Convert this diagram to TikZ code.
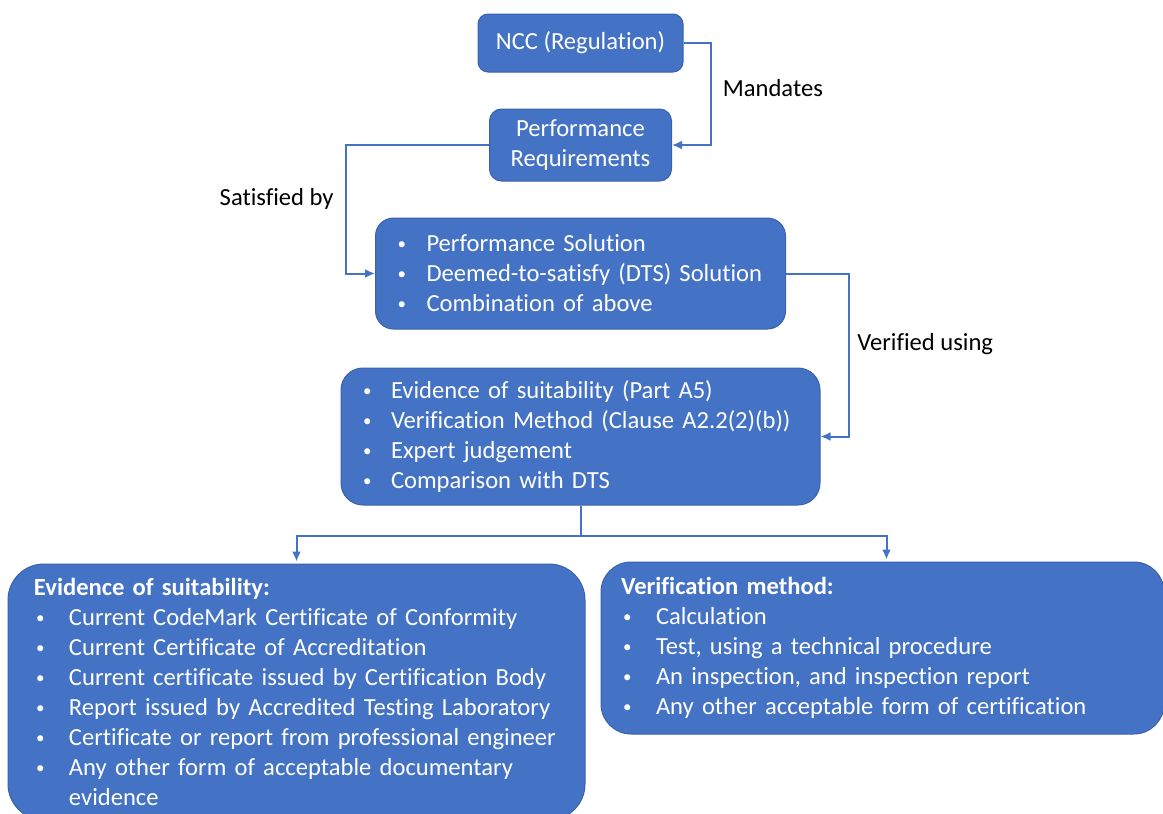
\documentclass[tikz,border=0pt]{standalone}
\usepackage{fontspec}
\setmainfont[Ligatures = NoCommon]{Carlito}
\definecolor{boxblue}{HTML}{4472C4}
\definecolor{boxedge}{HTML}{3A62AC}
\usetikzlibrary{arrows.meta, positioning}
\tikzset{
  bluebox/.style = {rectangle, fill = boxblue, draw = boxedge, line width = 1pt, text = white, font = \fontsize{24.6}{30}\selectfont, inner ysep = 4pt},
  listbox/.style = {bluebox, align = left, inner xsep = 20pt},
  conn/.style = {draw = boxblue, line width = 2pt, -{Latex[length=10pt, width=9pt]}},
  lbl/.style = {text = black, font = \fontsize{24.6}{30}\selectfont}
}
\newcommand{\bitem}[2][31pt]{\makebox[#1][l]{\hspace{2pt}\raisebox{2pt}{\fontsize{17}{17}\selectfont\textbullet}}#2}

\begin{document}
\begin{tikzpicture}[x = 1pt, y = -1pt]
\useasboundingbox (0,0) rectangle (1163,814);
\node[bluebox, rounded corners = 10pt, minimum width = 205pt, minimum height = 58pt, align = center] (ncc) at (580.5,43) {NCC (Regulation)};
\node[bluebox, rounded corners = 12pt, minimum width = 182pt, minimum height = 72pt, align = center, below = 36pt of ncc] (perf) {Performance\\Requirements};
\node[listbox, rounded corners = 18pt, text width = 370pt, minimum height = 111pt, below = 36pt of perf] (sol) {\bitem{Performance Solution}\\ \bitem{Deemed-to-satisfy (DTS) Solution}\\ \bitem{Combination of above}};
\node[listbox, rounded corners = 22pt, text width = 439pt, minimum height = 137pt, below = 38pt of sol] (suit) {\bitem[30pt]{Evidence of suitability (Part A5)}\\ \bitem[30pt]{Verification Method (Clause A2.2(2)(b))}\\ \bitem[30pt]{Expert judgement}\\ \bitem[30pt]{Comparison with DTS}};
\node[listbox, inner xsep = 26pt, rounded corners = 36pt, text width = 525pt, minimum height = 256pt, below left = 58pt and -5pt of suit.south] (evid) {\textbf{Evidence of suitability:}\\ \bitem[35pt]{Current CodeMark Certificate of Conformity}\\ \bitem[35pt]{Current Certificate of Accreditation}\\ \bitem[35pt]{Current certificate issued by Certification Body}\\ \bitem[35pt]{Report issued by Accredited Testing Laboratory}\\ \bitem[35pt]{Certificate or report from professional engineer}\\ \bitem[35pt]{Any other form of acceptable documentary}\\ \hspace*{35pt}evidence};
\node[listbox, rounded corners = 30pt, text width = 523pt, minimum height = 172pt, below right = 56pt and 20pt of suit.south] (verif) {\textbf{Verification method:}\\ \bitem[35pt]{Calculation}\\ \bitem[35pt]{Test, using a technical procedure}\\ \bitem[35pt]{An inspection, and inspection report}\\ \bitem[35pt]{Any other acceptable form of certification}};
\draw[conn] (ncc.east) -- ++(27pt,0) |- node[lbl, right = 8pt, pos = 0.22] {Mandates} (perf.east);
\draw[conn] (perf.west) -- ++(-143pt,0) |- node[lbl, left = 8pt, pos = 0.21] {Satisfied by} (sol.west);
\draw[conn] (sol.east) -- ++(63pt,0) |- node[lbl, right = 4pt, pos = 0.215] {Verified using} (suit.east);
\draw[boxblue, line width = 2pt] (suit.south) -- ++(0,-30pt) coordinate (split);
\draw[conn, shorten >= 2pt] (split) -| (evid.north);
\draw[conn, shorten >= 2pt] (split) -| ([xshift = 4pt]verif.north);
\end{tikzpicture}
\end{document}
